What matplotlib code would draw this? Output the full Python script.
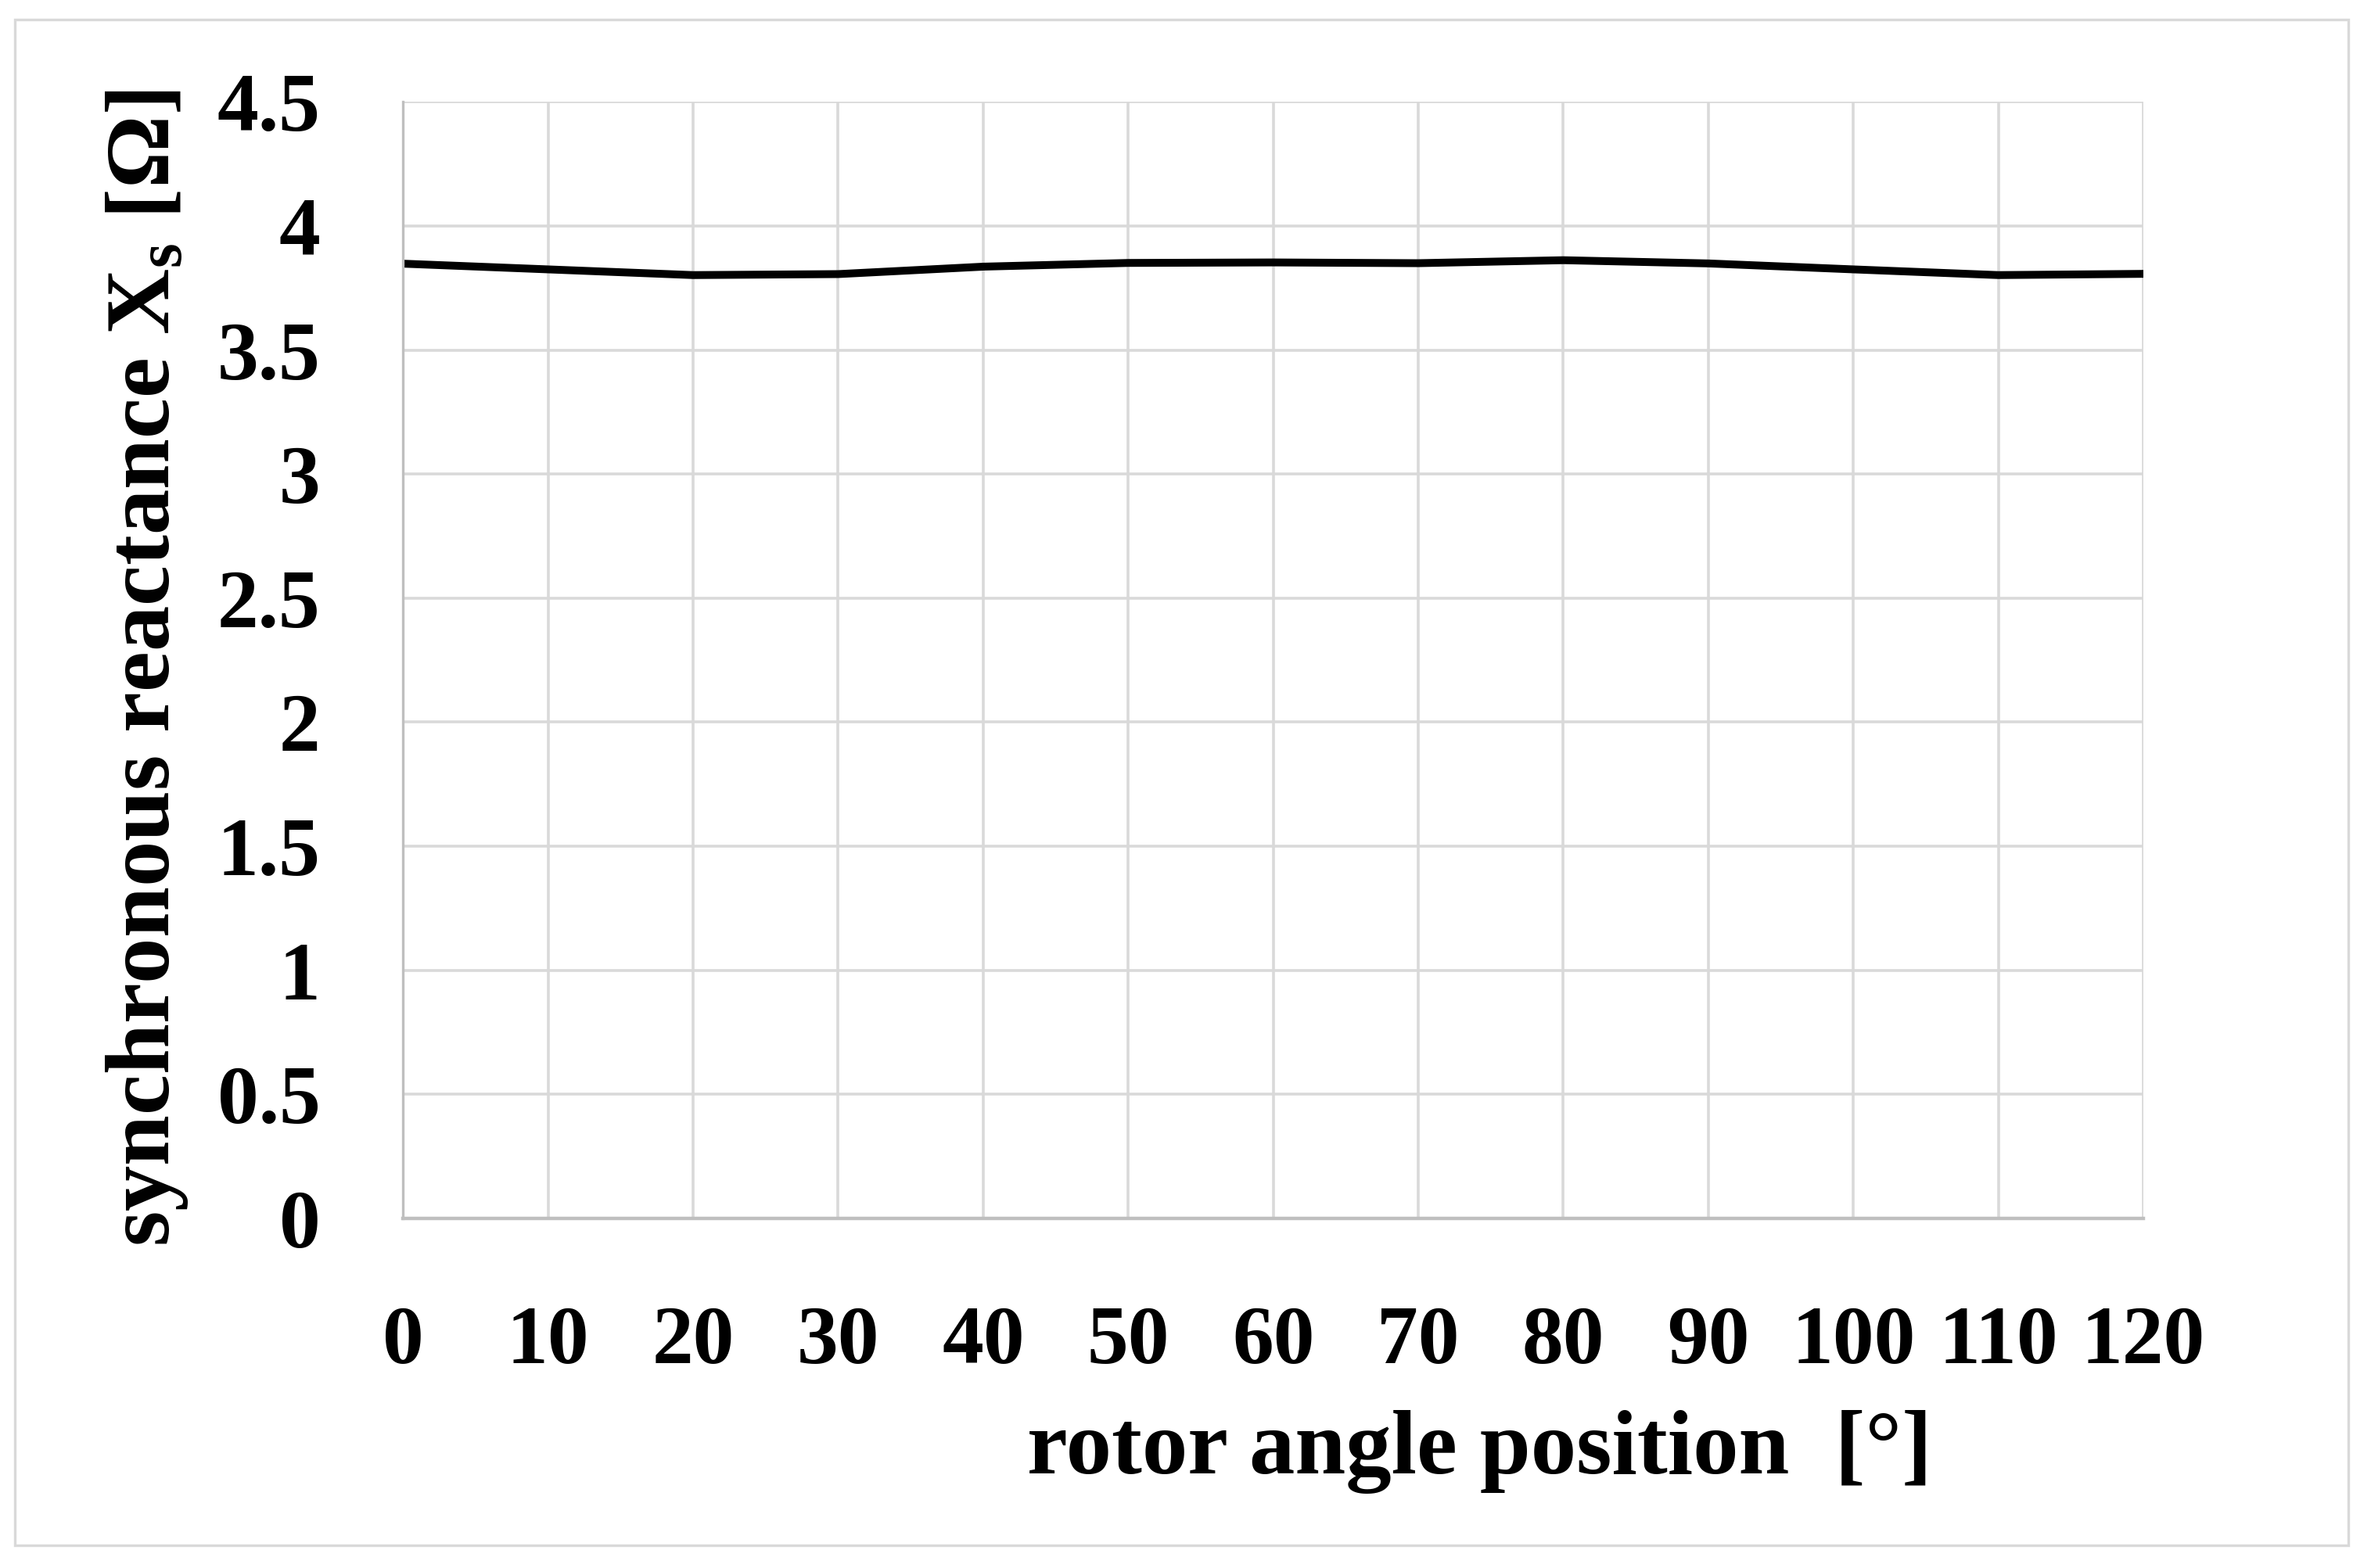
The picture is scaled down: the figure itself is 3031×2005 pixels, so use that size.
import matplotlib
matplotlib.use("Agg")
import matplotlib.pyplot as plt
from matplotlib.patches import Rectangle

# rotor angle [deg] and synchronous reactance Xs [ohm]
angles = [0, 10, 20, 30, 40, 50, 60, 70, 80, 90, 100, 110, 120]
xs_values = [3.848, 3.825, 3.802, 3.806, 3.836, 3.851, 3.853,
             3.850, 3.862, 3.849, 3.825, 3.802, 3.807]
x_ticks = list(range(0, 121, 10))
y_ticks = [0, 0.5, 1, 1.5, 2, 2.5, 3, 3.5, 4, 4.5]
y_tick_labels = ["0", "0.5", "1", "1.5", "2", "2.5", "3", "3.5", "4", "4.5"]

plt.rcParams["font.family"] = ["Liberation Serif", "DejaVu Serif"]
plt.rcParams["mathtext.fontset"] = "custom"
plt.rcParams["mathtext.rm"] = "Liberation Serif"
plt.rcParams["mathtext.default"] = "regular"

fig = plt.figure(figsize=(15.155, 10.025), dpi=200)
ax = fig.add_axes([0.170, 0.223, 0.734, 0.712])

ax.plot(angles, xs_values, color="black", linewidth=3.6, solid_capstyle="round")

ax.set_xlim(0, 120)
ax.set_ylim(0, 4.5)
ax.set_xticks(x_ticks)
ax.set_yticks(y_ticks)
ax.set_yticklabels(y_tick_labels)
ax.grid(True, color="#d9d9d9", linewidth=1.3)
ax.set_axisbelow(True)
ax.tick_params(length=0, labelsize=38, pad=38)
ax.tick_params(axis="x", pad=40)
for lab in ax.get_xticklabels() + ax.get_yticklabels():
    lab.set_fontweight("bold")

for side in ["top", "right"]:
    ax.spines[side].set_visible(False)
ax.spines["bottom"].set_color("#bfbfbf")
ax.spines["bottom"].set_linewidth(1.6)
ax.spines["left"].set_color("#bfbfbf")
ax.spines["left"].set_linewidth(1.2)

fig.text(0.624, 0.074, "rotor angle position  [°]", fontsize=42,
         fontweight="bold", ha="center", va="center")
fig.text(0.062, 0.574, r"synchronous reactance X$_{s}$ [Ω]", fontsize=42,
         fontweight="bold", ha="center", va="center", rotation=90)

# light outer frame around the chart
fig.patches.append(Rectangle((0.0063, 0.0145), 0.984, 0.973,
                             transform=fig.transFigure, fill=False,
                             edgecolor="#d9d9d9", linewidth=1.2))

fig.savefig("out.png", dpi=200, facecolor="white")
